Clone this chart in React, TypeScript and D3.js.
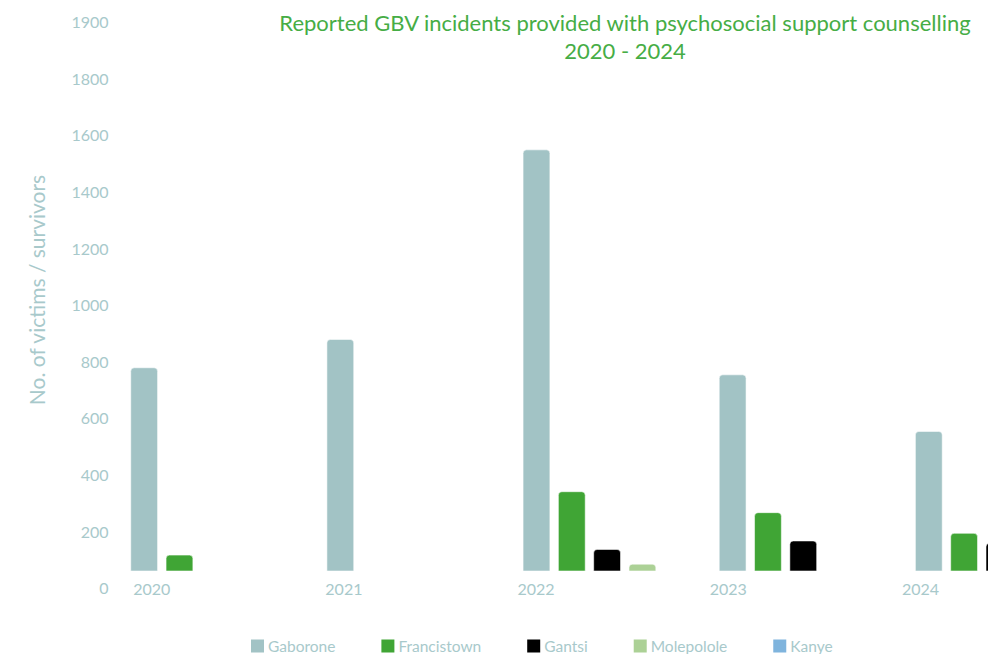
import React, { useMemo } from "react";
import * as d3 from "d3";

const W = 988;
const H = 654;

// Reporting years and districts
const years = ["2020", "2021", "2022", "2023", "2024"];
const districts = ["Gaborone", "Francistown", "Gantsi", "Molepolole", "Kanye"];
const districtColors = ["#a2c3c5", "#40a535", "#000000", "#acd196", "#7fb4dd"];

// Victims / survivors counselled, per district, by year (null = no report)
const gaborone = [780, 880, 1550, 755, 555];
const francistown = [118, null, 342, 268, 195];
const gantsi = [null, null, 138, 168, 160];
const molepolole = [null, null, 86, null, null];
const kanye = [null, null, null, null, null];

const seriesValues: (number | null)[][] = [gaborone, francistown, gantsi, molepolole, kanye];

// Y-axis tick positions and the labels printed beside them
const yTickValues = [0, 200, 400, 600, 800, 1000, 1200, 1400, 1600, 1800, 2000];
const yTickLabels = ["0", "200", "400", "600", "800", "1000", "1200", "1400", "1600", "1800", "1900"];

const titleLines = [
  "Reported GBV incidents provided with psychosocial support counselling",
  "2020 - 2024",
];
const yAxisTitle = "No. of victims / survivors";

const tickColor = "#a8c9cb";
const titleColor = "#46ad45";
const font = "Lato, 'Noto Sans', sans-serif";

function topRoundedBar(x: number, y: number, w: number, h: number, r: number) {
  const rr = Math.min(r, h, w / 2);
  return `M${x},${y + h}V${y + rr}Q${x},${y} ${x + rr},${y}H${x + w - rr}Q${x + w},${y} ${x + w},${y + rr}V${y + h}Z`;
}

export default function App() {
  const baseline = 571;

  const y = d3.scaleLinear().domain([0, 2000]).range([588.5, 22.5]);

  const x0 = d3.scaleBand<string>().domain(years).range([116.7, 1097.5]).paddingInner(0.1).paddingOuter(0.05);
  const x1 = d3
    .scaleBand<string>()
    .domain(districts)
    .range([0, x0.bandwidth()])
    .paddingInner(0.24)
    .paddingOuter(0.12);

  const xLabels = d3.scalePoint<string>().domain(years).range([151.7, 920.5]);

  const legendFont = `15.5px ${font}`;
  const legendItems = useMemo(() => {
    const ctx = document.createElement("canvas").getContext("2d");
    let cx = 251;
    return districts.map((d, i) => {
      let tw = d.length * 8;
      if (ctx) {
        ctx.font = legendFont;
        tw = ctx.measureText(d).width;
      }
      const item = { name: d, color: districtColors[i], x: cx, tx: cx + 17 };
      cx += 17 + tw + 46;
      return item;
    });
  }, []);

  return (
    <div style={{ position: "absolute", left: 0, top: 0 }}>
      <svg width={W} height={H} style={{ display: "block", background: "#fff" }}>
        {/* Title */}
        <g fill={titleColor} fontFamily={font} fontSize={22} textAnchor="middle">
          {titleLines.map((t, i) => (
            <text key={t} x={625} y={30.5 + i * 28}>
              {t}
            </text>
          ))}
        </g>

        {/* Y axis labels */}
        <g fill={tickColor} fontFamily={font} fontSize={16} textAnchor="end">
          {yTickValues.map((v, i) => (
            <text key={v} x={108.5} y={y(v)} dy="0.35em">
              {yTickLabels[i]}
            </text>
          ))}
        </g>
        <text
          transform={`translate(45,290) rotate(-90)`}
          fill={tickColor}
          fontFamily={font}
          fontSize={21}
          textAnchor="middle"
        >
          {yAxisTitle}
        </text>

        {/* Bars */}
        {seriesValues.map((vals, si) => (
          <g key={districts[si]} fill={districtColors[si]} stroke="#ffffff" strokeOpacity={0.55} strokeWidth={1}>
            {years.map((yr, yi) => {
              const v = vals[yi];
              if (v == null) return null;
              const bx = (x0(yr) as number) + (x1(districts[si]) as number);
              const top = y(v);
              return (
                <path key={yr} d={topRoundedBar(bx, top, x1.bandwidth(), baseline - top, 3.5)} />
              );
            })}
          </g>
        ))}

        {/* Year labels */}
        <g fill={tickColor} fontFamily={font} fontSize={16} textAnchor="middle">
          {years.map((yr) => (
            <text key={yr} x={xLabels(yr)} y={589} dy="0.35em">
              {yr}
            </text>
          ))}
        </g>

        {/* Legend */}
        <g fontFamily={font} fontSize={15.5}>
          {legendItems.map((it) => (
            <g key={it.name}>
              <rect x={it.x} y={639.5} width={13} height={13} fill={it.color} />
              <text x={it.tx} y={651.5} fill={tickColor}>
                {it.name}
              </text>
            </g>
          ))}
        </g>
      </svg>
    </div>
  );
}
